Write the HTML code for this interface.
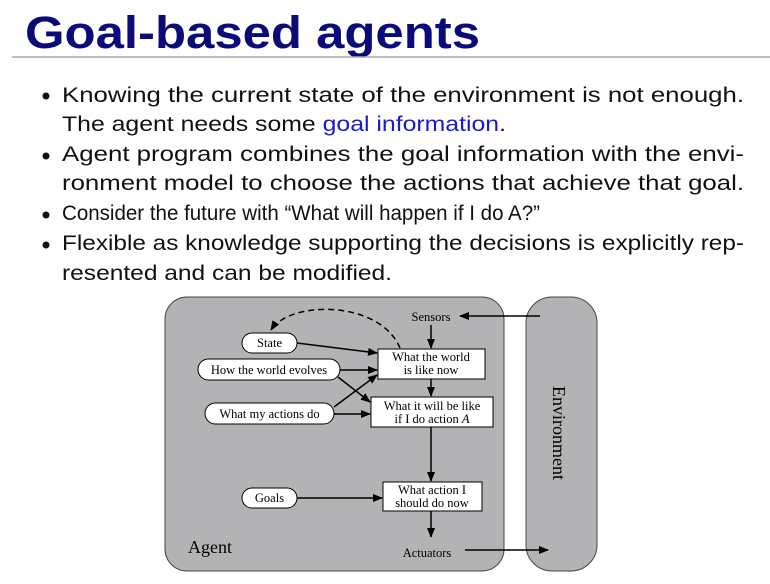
<!DOCTYPE html>
<html><head><meta charset="utf-8"><style>
html,body{margin:0;padding:0;background:#fff;}
svg{display:block;}
</style></head><body>
<svg width="770" height="584" viewBox="0 0 770 584" xmlns="http://www.w3.org/2000/svg">
<defs>
<marker id="ah" markerWidth="10" markerHeight="8" refX="9" refY="4" orient="auto" markerUnits="userSpaceOnUse">
<path d="M0,0 L10,4 L0,8 z" fill="#000"/>
</marker>
</defs>
<text x="25" y="48" font-family="Liberation Sans, sans-serif" font-weight="bold" font-size="45" fill="#0a0a78" textLength="455" lengthAdjust="spacingAndGlyphs">Goal-based agents</text>
<line x1="12" y1="57" x2="770" y2="57" stroke="#aaa" stroke-width="1.5"/>
<g font-family="Liberation Sans, sans-serif" font-size="21" fill="#111">
<circle cx="46" cy="96" r="3.5"/><circle cx="46" cy="156" r="3.5"/><circle cx="46" cy="215" r="3.5"/><circle cx="46" cy="245" r="3.5"/>
<text x="62" y="102" textLength="682" lengthAdjust="spacingAndGlyphs">Knowing the current state of the environment is not enough.</text>
<text x="62" y="131" textLength="444" lengthAdjust="spacingAndGlyphs">The agent needs some <tspan fill="#1a1ad0">goal information</tspan>.</text>
<text x="62" y="161" textLength="682" lengthAdjust="spacingAndGlyphs">Agent program combines the goal information with the envi-</text>
<text x="62" y="190" textLength="682" lengthAdjust="spacingAndGlyphs">ronment model to choose the actions that achieve that goal.</text>
<text x="62" y="220" textLength="478" lengthAdjust="spacingAndGlyphs">Consider the future with “What will happen if I do A?”</text>
<text x="62" y="250" textLength="682" lengthAdjust="spacingAndGlyphs">Flexible as knowledge supporting the decisions is explicitly rep-</text>
<text x="62" y="280" textLength="330" lengthAdjust="spacingAndGlyphs">resented and can be modified.</text>
</g>
<rect x="165" y="297" width="339" height="274" rx="22" fill="#b3b3b5" stroke="#444" stroke-width="1"/>
<rect x="526" y="297" width="71" height="274" rx="26" fill="#b3b3b5" stroke="#444" stroke-width="1"/>
<g font-family="Liberation Serif, serif" font-size="12.5" fill="#000" text-anchor="middle">
<rect x="242" y="333" width="55" height="20" rx="10" fill="#fff" stroke="#000"/>
<text x="269.5" y="347">State</text>
<rect x="198" y="359" width="142" height="21" rx="10.5" fill="#fff" stroke="#000"/>
<text x="269" y="374">How the world evolves</text>
<rect x="205" y="403" width="129" height="21" rx="10.5" fill="#fff" stroke="#000"/>
<text x="269.5" y="418">What my actions do</text>
<rect x="242" y="488" width="55" height="20" rx="10" fill="#fff" stroke="#000"/>
<text x="269.5" y="502">Goals</text>
<rect x="378" y="349" width="107" height="30" fill="#fff" stroke="#000"/>
<text x="431" y="361">What the world</text><text x="431" y="374">is like now</text>
<rect x="371" y="397" width="122" height="30" fill="#fff" stroke="#000"/>
<text x="432" y="410">What it will be like</text><text x="432" y="423">if I do action <tspan font-style="italic">A</tspan></text>
<rect x="383" y="482" width="99" height="29" fill="#fff" stroke="#000"/>
<text x="432" y="494">What action I</text><text x="432" y="507">should do now</text>
<text x="431" y="321">Sensors</text>
<text x="427" y="557">Actuators</text>
<text x="210" y="553" font-size="18">Agent</text>
<text x="0" y="0" font-size="18" transform="translate(553,433) rotate(90)">Environment</text>
</g>
<g stroke="#000" stroke-width="1.5" fill="none">
<line x1="540" y1="316" x2="460" y2="316" marker-end="url(#ah)"/>
<line x1="431" y1="325" x2="431" y2="348" marker-end="url(#ah)"/>
<line x1="297" y1="343" x2="377" y2="353" marker-end="url(#ah)"/>
<line x1="340" y1="370" x2="377" y2="370" marker-end="url(#ah)"/>
<line x1="334" y1="407" x2="377" y2="375" marker-end="url(#ah)"/>
<line x1="338" y1="377" x2="370" y2="402" marker-end="url(#ah)"/>
<line x1="334" y1="414" x2="370" y2="414" marker-end="url(#ah)"/>
<line x1="431" y1="379" x2="431" y2="396" marker-end="url(#ah)"/>
<line x1="431" y1="427" x2="431" y2="481" marker-end="url(#ah)"/>
<line x1="297" y1="498" x2="382" y2="498" marker-end="url(#ah)"/>
<line x1="431" y1="511" x2="431" y2="537" marker-end="url(#ah)"/>
<line x1="465" y1="550" x2="548" y2="550" marker-end="url(#ah)"/>
<path d="M400,348 C380,300 290,300 271,330" stroke-dasharray="6,4" marker-end="url(#ah)"/>
</g>
</svg>
</body></html>
